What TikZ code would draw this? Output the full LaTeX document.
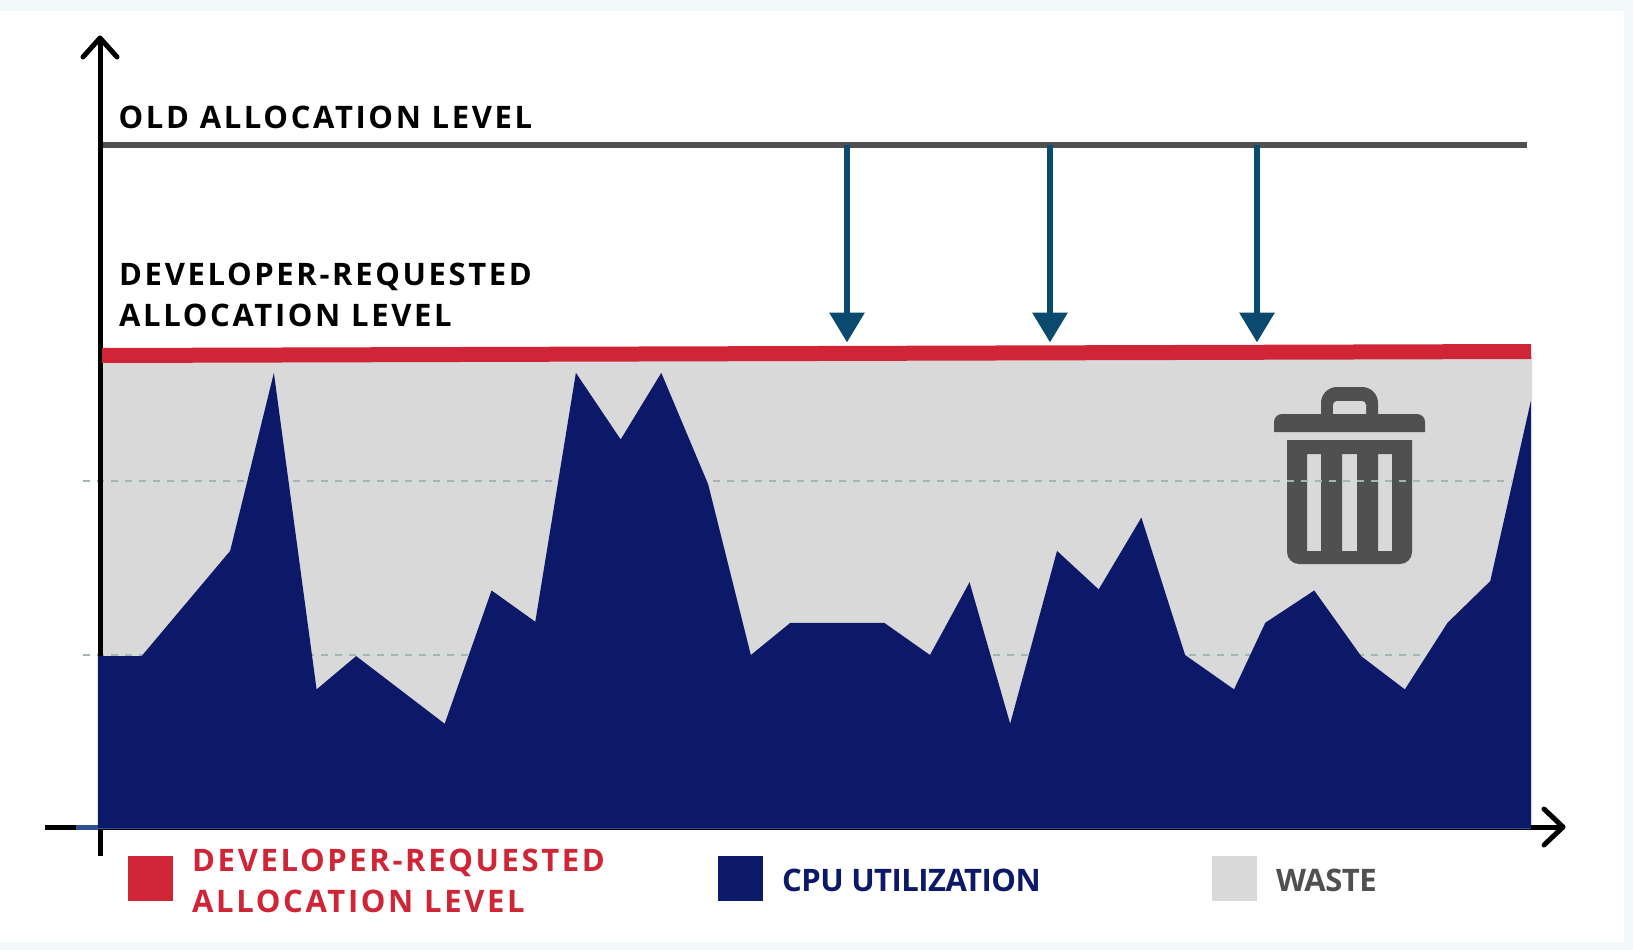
\documentclass[tikz,border=0pt]{standalone}
\usepackage{fontspec}
\setmainfont{Open Sans}
\newfontfamily\spaced[LetterSpace=8.5]{Open Sans}
\newfontfamily\tight[LetterSpace=-1.7]{Open Sans}
\usetikzlibrary{arrows.meta}
\definecolor{pagebg}{HTML}{F3F8FB}
\definecolor{navy}{HTML}{0B1968}
\definecolor{redbar}{HTML}{D02536}
\definecolor{wastegray}{HTML}{D9D9D9}
\definecolor{iconfill}{HTML}{505050}
\definecolor{teal}{HTML}{0B4A6F}
\definecolor{dashc}{HTML}{A5B5B5}
\definecolor{axisblue}{HTML}{2F4F8F}
\tikzset{
  axisline/.style={line width=5pt,black},
  chevron/.style={line width=5pt,black,line cap=round,line join=round},
  droparrow/.style={line width=6.5pt,teal,-{Triangle[width=34pt,length=30pt]},shorten >=-0.5pt},
  gridline/.style={line width=1.5pt,dashc,dash pattern=on 7pt off 7pt},
  headtext/.style={anchor=base west,inner sep=0pt,text=black,font=\spaced\bfseries\fontsize{31}{41}\selectfont},
  redtext/.style={anchor=base west,inner sep=0pt,text=redbar,font=\spaced\bfseries\fontsize{31}{41}\selectfont},
  legendtext/.style={anchor=base west,inner sep=0pt,font=\tight\bfseries\fontsize{31}{41}\selectfont},
  legendbox/.style={anchor=north west,inner sep=0pt,minimum width=45pt,minimum height=45pt}
}
\begin{document}
\begin{tikzpicture}[x=1pt,y=-1pt]
\useasboundingbox (0,0) rectangle (1633,950);
\fill[pagebg] (0,0) rectangle (1633,950);
\fill[white] (0,11) rectangle (1624,942);
% waste
\fill[wastegray] (102,360) -- (1532,356) -- (1532,830) -- (102,830) -- cycle;
% trash icon
\fill[iconfill,rounded corners=16pt] (1321,430) -- (1321,387) -- (1378,387) -- (1378,430) -- cycle;
\fill[wastegray,rounded corners=4pt] (1333,420) -- (1333,401) -- (1366,401) -- (1366,420) -- cycle;
\fill[iconfill] (1274,432) [rounded corners=8pt] -- (1274,414) -- (1425,414) [sharp corners] -- (1425,432) -- cycle;
\fill[iconfill,even odd rule] (1287,440) -- (1412,440) [rounded corners=12pt] -- (1412,564) -- (1287,564) [sharp corners] -- cycle
  (1307,454) rectangle (1321,551) (1342,454) rectangle (1357,551) (1378,454) rectangle (1392,551);
% gridlines
\coordinate (g1a) at (83,481); \coordinate (g1b) at (1512,481);
\coordinate (g2a) at (83,655); \coordinate (g2b) at (1512,655);
\draw[gridline] (g1a) -- (g1b);
\draw[gridline] (g2a) -- (g2b);
% axes
\coordinate (ytip) at (100,38); \coordinate (ybase) at (100,856);
\coordinate (xstart) at (45,827); \coordinate (xtip) at (1563,827);
\draw[axisline] (ybase) -- (ytip);
\draw[axisline] (xstart) -- (xtip);
\draw[chevron] (83,57) -- (ytip) -- (117,57);
\draw[chevron] (1544,809) -- (xtip) -- (1544,845);
% CPU area
\begin{scope}[x=1.0414pt,y=-1.0414pt]
\fill[navy] (94,630) -- (136,630) -- (221,529) -- (263,358) -- (304,662) -- (342,630) -- (427,695) -- (472,567) -- (514,597) -- (553,358) -- (596,422) -- (635,358) -- (680,465) -- (721,629) -- (759,598) -- (849,598) -- (893,629) -- (931,559) -- (970,695) -- (1015,529) -- (1055,566) -- (1096,497) -- (1138,629) -- (1185,662) -- (1215,598) -- (1262,567) -- (1307,630) -- (1349,662) -- (1390,598) -- (1431,558) -- (1470,385) -- (1470,795) -- (94,795) -- cycle;
\end{scope}
\draw[line width=1.5pt,draw=axisblue] (98,828.5) -- (1531,828.5);
\draw[line width=5pt,draw=axisblue] (76,827) -- (98,827);
% old level
\coordinate (olda) at (103,145); \coordinate (oldb) at (1527,145);
\draw[line width=5.5pt,iconfill] (olda) -- (oldb);
% red level
\fill[redbar] (102,348) -- (1531,344) -- (1531,359) -- (102,363) -- cycle;
% drop arrows
\foreach \n/\x in {a/847,b/1050,c/1257}{
  \coordinate (top\n) at (\x,145);
  \coordinate (tip\n) at (\x,342);
  \draw[droparrow] (top\n) -- (tip\n);
}
% labels
\node[headtext] (oldlabel) at (118.5,128) {OLD ALLOCATION LEVEL};
\node[headtext] (devlabel1) at (119,285) {DEVELOPER-REQUESTED};
\node[headtext] (devlabel2) at (119,326) {ALLOCATION LEVEL};
% legend
\node[legendbox,fill=redbar] (lgred) at (128,856) {};
\node[redtext] (lgredt1) at (192,871) {DEVELOPER-REQUESTED};
\node[redtext] (lgredt2) at (192,912) {ALLOCATION LEVEL};
\node[legendbox,fill=navy] (lgcpu) at (718,856) {};
\node[legendtext,text=navy] (lgcput) at (782,891) {CPU UTILIZATION};
\node[legendbox,fill=wastegray] (lgwaste) at (1212,856) {};
\node[legendtext,text=iconfill] (lgwastet) at (1276,891) {WASTE};
\end{tikzpicture}
\end{document}
